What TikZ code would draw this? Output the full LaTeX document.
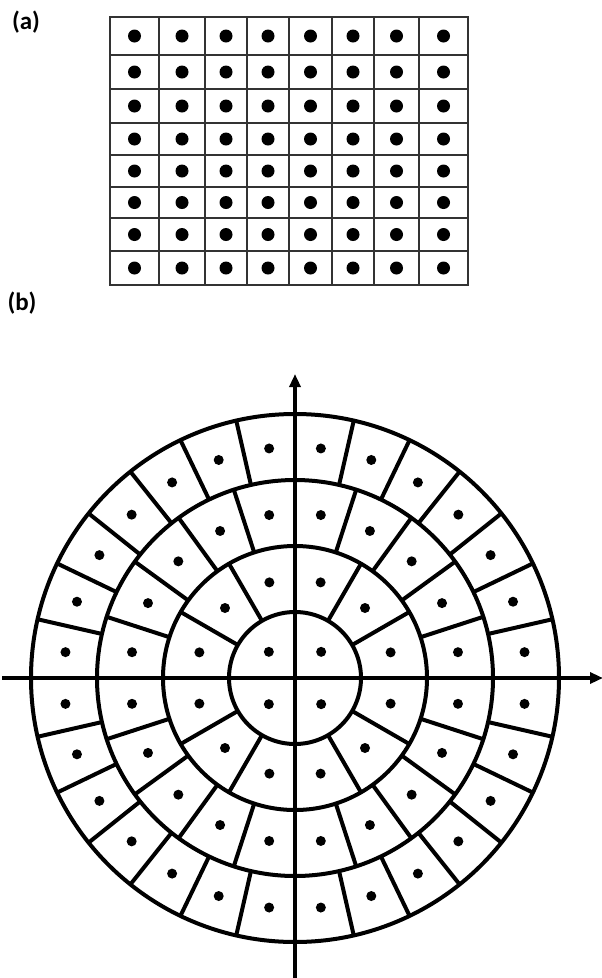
\documentclass[tikz,border=0pt]{standalone}
\usepackage{fontspec}
\setmainfont{Carlito}
\usetikzlibrary{arrows.meta}

\begin{document}
\begin{tikzpicture}[
  x=1pt, y=-1pt,
  cellline/.style = {draw=black!80, line width=2.8pt},
  ringline/.style = {draw=black, line width=4pt},
  axis/.style     = {-{Triangle[length=13pt,width=11pt]},
                     line width=3.2pt, draw=black},
  griddot/.style  = {circle, fill=black, inner sep=0pt, minimum size=13pt},
  ringdot/.style  = {circle, fill=black, inner sep=0pt, minimum size=10pt},
  panel/.style    = {font=\bfseries\fontsize{25}{25}\selectfont, inner sep=0pt},
]
\useasboundingbox (0,0) rectangle (602,978);

% (a) square grid
\node[panel] (lbla) at (26,22) {(a)};
\draw[cellline] (110,17) rectangle (468,285);
\foreach \xe in {159,205,247,289,332,374,419}
  \draw[cellline] (\xe,17) -- (\xe,285);
\foreach \ye in {55,89,123,155,187,218,251}
  \draw[cellline] (110,\ye) -- (468,\ye);
\foreach \xa/\xb [count=\c] in {110/159,159/205,205/247,247/289,289/332,332/374,374/419,419/468}
  \foreach \ya/\yb [count=\r] in {17/55,55/89,89/123,123/155,155/187,187/218,218/251,251/285}
    \node[griddot] (g-\c-\r) at ({(\xa+\xb)/2},{(\ya+\yb)/2}) {};

% (b) polar grid
\node[panel] (lblb) at (22,303) {(b)};
\coordinate (c)  at (295,678);
\coordinate (xl) at (2,678);
\coordinate (xr) at (603,678);
\coordinate (yb) at (295,978);
\coordinate (yt) at (295,374);
\begin{scope}[shift={(c)}]
  \foreach \k in {1,...,4}
    \draw[ringline] (0,0) circle[radius={66pt*\k}];
  \foreach \k in {2,3,4}{
    \pgfmathtruncatemacro{\n}{4*(2*\k-1)}
    \foreach \i in {1,...,\n}
      \draw[ringline] ({\i*360/\n}:{66pt*(\k-1)}) -- ({\i*360/\n}:{66pt*\k});
  }
  \foreach \k in {1,...,4}{
    \pgfmathtruncatemacro{\n}{4*(2*\k-1)}
    \pgfmathsetmacro{\rd}{\k==1 ? 37 : 66*(\k-0.5)}
    \foreach \i in {1,...,\n}
      \node[ringdot] (d-\k-\i) at ({(\i-0.5)*360/\n}:{\rd pt}) {};
  }
\end{scope}
\draw[axis] (xl) -- (xr);
\draw[axis] (yb) -- (yt);
\end{tikzpicture}
\end{document}
